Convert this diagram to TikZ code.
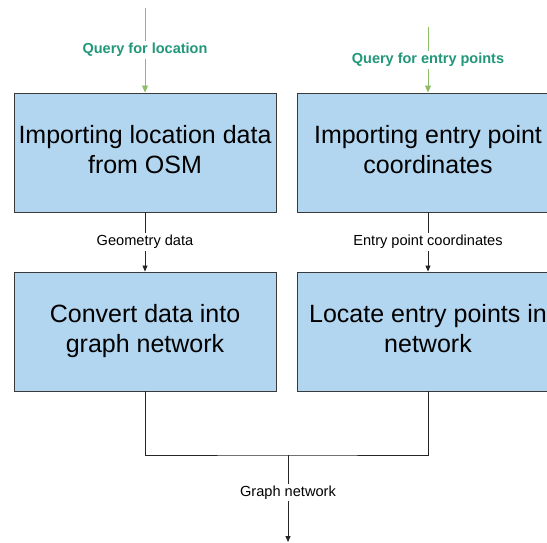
\documentclass[tikz,border=0pt]{standalone}
\usepackage{fontspec}
\setmainfont{Liberation Sans}
\usetikzlibrary{arrows.meta}
\definecolor{boxfill}{HTML}{B2D5F0}
\definecolor{boxline}{HTML}{3A3A3A}
\definecolor{qgreen}{HTML}{8DBD68}
\definecolor{qtext}{HTML}{22977A}
\tikzset{
  procbox/.style={draw=boxline, line width=0.9pt, fill=boxfill, minimum width=262pt,
    minimum height=119pt, align=center, font=\fontsize{25}{30}\selectfont, inner sep=0pt},
  flow/.style={draw=black!85, line width=0.8pt, -{Triangle[length=6pt,width=5pt]}},
  query/.style={draw=qgreen, line width=0.9pt, -{Triangle[length=7pt,width=6pt]}},
  qlabel/.style={fill=white, text=qtext, font=\fontsize{14.5}{16}\selectfont\bfseries, inner sep=2pt},
  flabel/.style={fill=white, text=black, font=\fontsize{14.6}{16}\selectfont, inner sep=2pt}
}
\begin{document}
\begin{tikzpicture}[x=1pt,y=1pt]
\useasboundingbox (0,0) rectangle (547,542);
\clip (0,0) rectangle (547,542);
% process boxes
\node[procbox] (osm) at (145,389.5) {\strut Importing location data\\\strut from OSM};
\node[procbox] (entry) at (428,389.5) {\strut Importing entry point\\\strut coordinates};
\node[procbox] (graph) at (145,210.5) {\strut Convert data into\\\strut graph network};
\node[procbox] (locate) at (428,210.5) {\strut Locate entry points in\\\strut network};
% query inputs
\coordinate (qa) at (145,534);
\coordinate (qb) at (428,515);
\draw[query] (qa) -- node[qlabel, pos=0.495] {Query for location} (osm.north);
\draw[query] (qb) -- node[qlabel, pos=0.5] {Query for entry points} (entry.north);
% data flows
\draw[flow] (osm.south) -- node[flabel] {Geometry data} (graph.north);
\draw[flow] (entry.south) -- node[flabel] {Entry point coordinates} (locate.north);
% merge into graph network output
\coordinate (jn) at (288,87);
\coordinate (out) at (288,0);
\draw[draw=black!85, line width=0.8pt] (graph.south) |- (jn) -| (locate.south);
\draw[flow] (jn) -- node[flabel, pos=0.43] {Graph network} (out);
\end{tikzpicture}
\end{document}
